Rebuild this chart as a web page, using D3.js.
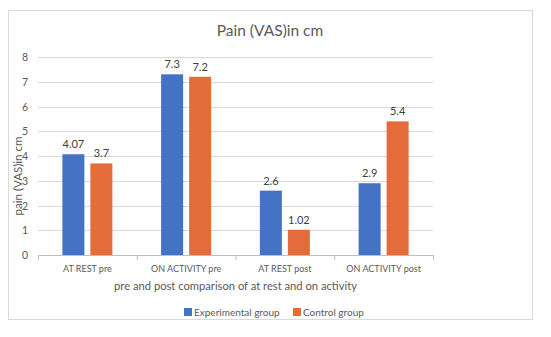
<!DOCTYPE html>
<html>
<head>
<meta charset="utf-8">
<script src="https://cdn.jsdelivr.net/npm/d3@7"></script>
<style>
  body { margin: 0; background: #fff; }
  text { font-family: Lato, "Open Sans", "Liberation Sans", sans-serif; }
</style>
</head>
<body>
<svg id="chart" width="551" height="337"></svg>
<script>
const categories = ['AT REST pre', 'ON ACTIVITY pre', 'AT REST post', 'ON ACTIVITY post'];
const experimental = [4.07, 7.3, 2.6, 2.9];
const control = [3.7, 7.2, 1.02, 5.4];
const seriesNames = ['Experimental group', 'Control group'];
const yTicks = [0, 1, 2, 3, 4, 5, 6, 7, 8];

const COLORS = ['#4472C4', '#E46C3A'];

const svg = d3.select('#chart');
const plot = { left: 38, right: 433, top: 57, bottom: 255 };

// chart frame
svg.append('rect')
  .attr('x', 8.5).attr('y', 10.5)
  .attr('width', 524).attr('height', 309)
  .attr('fill', '#fff').attr('stroke', '#D9D9D9');

const x = d3.scaleBand().domain(categories).range([plot.left, plot.right]);
const y = d3.scaleLinear().domain([0, 8]).range([plot.bottom, plot.top]);

// gridlines
svg.append('g').selectAll('line')
  .data(yTicks.filter(t => t > 0))
  .enter().append('line')
  .attr('x1', plot.left).attr('x2', plot.right)
  .attr('y1', d => Math.round(y(d)) + 0.5).attr('y2', d => Math.round(y(d)) + 0.5)
  .attr('stroke', '#D9D9D9');

// y tick labels
svg.append('g').selectAll('text')
  .data(yTicks)
  .enter().append('text')
  .attr('x', 28).attr('y', d => y(d) + 4)
  .attr('text-anchor', 'end')
  .attr('font-size', '10.5px')
  .attr('fill', '#595959')
  .text(d => d);

// bars
const barW = 22, gap = 6;
const series = [experimental, control];
series.forEach((vals, si) => {
  const off = x.bandwidth() / 2 - (barW * 2 + gap) / 2 + si * (barW + gap);
  svg.append('g').selectAll('rect')
    .data(vals)
    .enter().append('rect')
    .attr('x', (d, i) => x(categories[i]) + off)
    .attr('y', d => y(d))
    .attr('width', barW)
    .attr('height', d => y(0) - y(d))
    .attr('fill', COLORS[si]);
  svg.append('g').selectAll('text')
    .data(vals)
    .enter().append('text')
    .attr('x', (d, i) => x(categories[i]) + off + barW / 2)
    .attr('y', d => y(d) - 6)
    .attr('text-anchor', 'middle')
    .attr('font-size', '11px')
    .attr('fill', '#404040')
    .text(d => d);
});

// x axis line and ticks
svg.append('line')
  .attr('x1', plot.left).attr('x2', plot.right)
  .attr('y1', plot.bottom + 0.5).attr('y2', plot.bottom + 0.5)
  .attr('stroke', '#BFBFBF');
svg.append('g').selectAll('line')
  .data(categories.map(c => x(c)).concat([plot.right]))
  .enter().append('line')
  .attr('x1', d => d + 0.5).attr('x2', d => d + 0.5)
  .attr('y1', plot.bottom).attr('y2', plot.bottom + 5)
  .attr('stroke', '#BFBFBF');

// x tick labels
svg.append('g').selectAll('text')
  .data(categories)
  .enter().append('text')
  .attr('x', d => x(d) + x.bandwidth() / 2)
  .attr('y', 272)
  .attr('text-anchor', 'middle')
  .attr('font-size', '9px')
  .attr('fill', '#595959')
  .text(d => d);

// title
svg.append('text')
  .attr('x', 270).attr('y', 36)
  .attr('text-anchor', 'middle')
  .attr('font-size', '15.5px')
  .attr('fill', '#595959')
  .text('Pain (VAS)in cm');

// axis titles
svg.append('text')
  .attr('x', (plot.left + plot.right) / 2).attr('y', 290)
  .attr('text-anchor', 'middle')
  .attr('font-size', '11.2px')
  .attr('fill', '#595959')
  .text('pre and post comparison of at rest and on activity');

svg.append('text')
  .attr('transform', 'translate(22,176) rotate(-90)')
  .attr('text-anchor', 'middle')
  .attr('font-size', '11.5px')
  .attr('fill', '#595959')
  .text('pain (VAS)in cm');

// legend
const legendX = [184, 293];
seriesNames.forEach((name, i) => {
  svg.append('rect')
    .attr('x', legendX[i]).attr('y', 308)
    .attr('width', 8).attr('height', 8)
    .attr('fill', COLORS[i]);
  svg.append('text')
    .attr('x', legendX[i] + 10).attr('y', 315.5)
    .attr('font-size', '10px')
    .attr('fill', '#595959')
    .text(name);
});
</script>
</body>
</html>
